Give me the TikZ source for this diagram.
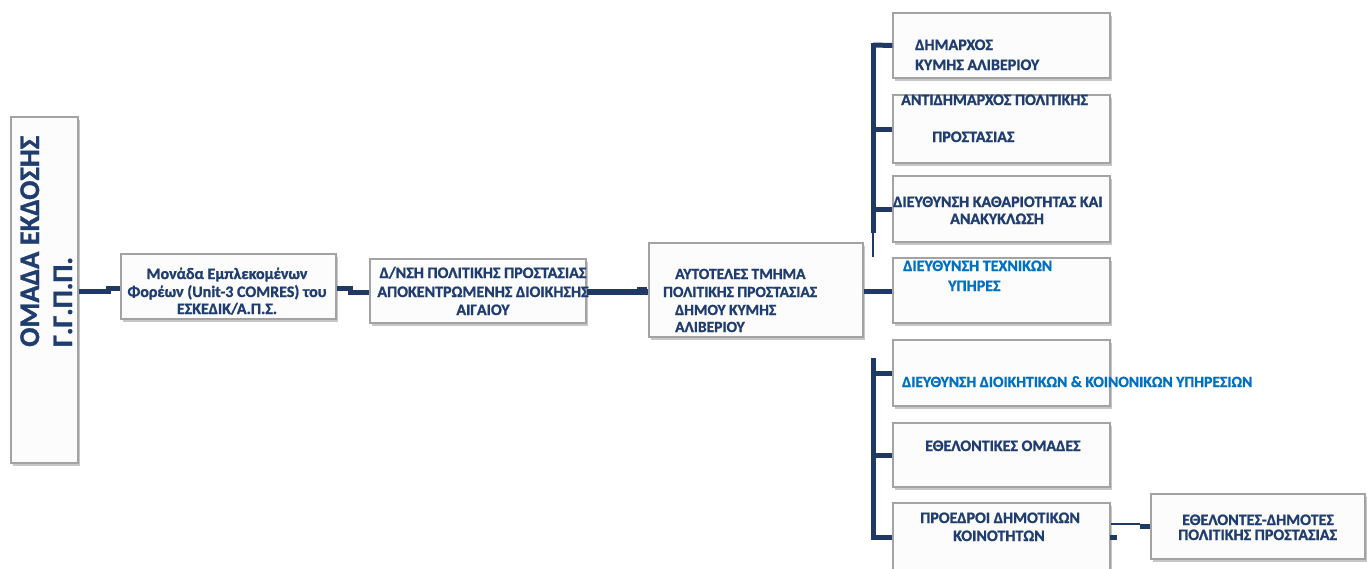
\documentclass[tikz,border=0pt]{standalone}
\usepackage{fontspec}
\setmainfont{Carlito}[BoldFont={Carlito Bold}, BoldFeatures={FakeBold=1.2}]
\usetikzlibrary{shadows}
\definecolor{navy}{HTML}{1F3864}
\definecolor{txtnavy}{HTML}{203D70}
\definecolor{brightblue}{HTML}{0070C0}
\definecolor{boxline}{HTML}{A3A3A3}
\definecolor{boxfill}{HTML}{FCFCFC}
\begin{document}
\begin{tikzpicture}[x=1pt,y=-1pt,
  box/.style={draw=boxline, line width=1.3pt, fill=boxfill, inner sep=0pt,
    drop shadow={shadow xshift=2pt, shadow yshift=-2.5pt, opacity=0.22, fill=black}},
  conn/.style={draw=navy, line width=5pt},
  thinconn/.style={draw=navy, line width=2pt},
  t/.style={font=\bfseries\fontsize{16}{19}\selectfont, text=txtnavy, inner sep=0pt},
  ta/.style={t, font=\bfseries\fontsize{15.5}{19}\selectfont},
  tb/.style={t, text=brightblue},
  big/.style={font=\bfseries\fontsize{28.5}{33}\selectfont, text=txtnavy, inner sep=0pt, rotate=90, anchor=base west}]
\useasboundingbox (0,0) rectangle (1367,568);

% boxes
\node[box, minimum width=67pt, minimum height=346pt] (omada) at (44.5,290) {};
\node[box, minimum width=215pt, minimum height=65pt] (monada) at (228.5,286.5) {};
\node[box, minimum width=216pt, minimum height=64pt] (dnsi) at (478,291) {};
\node[box, minimum width=214pt, minimum height=94pt] (aytot) at (756,290) {};
\node[box, minimum width=217pt, minimum height=65pt] (dim) at (1001.5,45.5) {};
\node[box, minimum width=217pt, minimum height=68pt] (anti) at (1001.5,129) {};
\node[box, minimum width=217pt, minimum height=66pt] (kath) at (1001.5,209) {};
\node[box, minimum width=217pt, minimum height=65pt] (tech) at (1001.5,290.5) {};
\node[box, minimum width=217pt, minimum height=66pt] (dioik) at (1001.5,373) {};
\node[box, minimum width=217pt, minimum height=64pt] (ethel) at (1001.5,455) {};
\node[box, minimum width=217pt, minimum height=74pt] (proed) at (1001.5,540) {};
\node[box, minimum width=214pt, minimum height=65pt] (ethdim) at (1258,526.5) {};

% connectors
\draw[conn] ([yshift=-1.5pt]omada.east) -- ++(30,0) |- ([yshift=-1.5pt]monada.west);
\draw[conn] ([yshift=-1.5pt]monada.east) -- ++(14,0) |- ([yshift=-1pt]dnsi.west);
\draw[conn, line width=6pt] ([yshift=-0.5pt]dnsi.east) -- ([yshift=-1.5pt]aytot.west);
\fill[navy] (637,287) rectangle (647,295);
\draw[conn] ([yshift=-1pt]aytot.east) -- ([yshift=-0.5pt]tech.west);

\coordinate (bustop) at (873,45);
\coordinate (busmid) at (873,233);
\coordinate (busthin) at (873,257);
\coordinate (bus2top) at (873,358);
\coordinate (busbot) at (873,537);
\draw[conn] ([yshift=2.5pt]bustop) -- (busmid);
\draw[navy, line width=1.5pt] (busmid) -- (busthin);
\draw[conn] (bus2top) -- ([yshift=-2.5pt]busbot);
\draw[conn] (bustop) -- (dim.west);
\draw[conn] (anti.west -| bustop) -- (anti.west);
\draw[conn] (kath.west -| bustop) -- (kath.west);
\draw[conn] (dioik.west -| bustop) -- (dioik.west);
\draw[conn] (ethel.west -| bustop) -- (ethel.west);
\draw[conn] (busbot) -- (busbot -| proed.west);

\coordinate (pj) at (1140,524);
\draw[thinconn] (proed.east |- pj) -- (pj);
\draw[conn] (pj |- ethdim.west) -- (ethdim.west);
\fill[navy] (1110,535) rectangle (1117,540);

% texts
\node[big] (om1) at (39,347) {ΟΜΑΔΑ ΕΚΔΟΣΗΣ};
\node[big] (om2) at (72,347) {Γ.Γ.Π.Π.};

\node[t, anchor=base] (m1) at (227,279) {Μονάδα Εμπλεκομένων};
\node[t, anchor=base] (m2) at (227,297) {Φορέων (Unit-3 COMRES) του};
\node[t, anchor=base] (m3) at (227,314) {ΕΣΚΕΔΙΚ/Α.Π.Σ.};

\node[t, anchor=base] (d1) at (483,278) {Δ/ΝΣΗ ΠΟΛΙΤΙΚΗΣ ΠΡΟΣΤΑΣΙΑΣ};
\node[t, anchor=base] (d2) at (483,297) {ΑΠΟΚΕΝΤΡΩΜΕΝΗΣ ΔΙΟΙΚΗΣΗΣ};
\node[t, anchor=base] (d3) at (483,315) {ΑΙΓΑΙΟΥ};

\node[ta, anchor=base west] (a1) at (675,279) {ΑΥΤΟΤΕΛΕΣ ΤΜΗΜΑ};
\node[ta, anchor=base west] (a2) at (663,297) {ΠΟΛΙΤΙΚΗΣ ΠΡΟΣΤΑΣΙΑΣ};
\node[ta, anchor=base west] (a3) at (675,315) {ΔΗΜΟΥ ΚΥΜΗΣ};
\node[ta, anchor=base west] (a4) at (675,332) {ΑΛΙΒΕΡΙΟΥ};

\node[t, anchor=base west] (dm1) at (915,50) {ΔΗΜΑΡΧΟΣ};
\node[t, anchor=base west] (dm2) at (915,70) {ΚΥΜΗΣ ΑΛΙΒΕΡΙΟΥ};

\node[t, anchor=base west] (an1) at (901,105) {ΑΝΤΙΔΗΜΑΡΧΟΣ ΠΟΛΙΤΙΚΗΣ};
\node[t, anchor=base west] (an2) at (932,142) {ΠΡΟΣΤΑΣΙΑΣ};

\node[t, anchor=base west] (k1) at (893,207) {ΔΙΕΥΘΥΝΣΗ ΚΑΘΑΡΙΟΤΗΤΑΣ ΚΑΙ};
\node[t, anchor=base west] (k2) at (950,224) {ΑΝΑΚΥΚΛΩΣΗ};

\node[tb, anchor=base west] (te1) at (903,271) {ΔΙΕΥΘΥΝΣΗ ΤΕΧΝΙΚΩΝ};
\node[tb, anchor=base west] (te2) at (948,291) {ΥΠΗΡΕΣ};

\node[tb, anchor=base west, font=\bfseries\fontsize{15.6}{19}\selectfont] (di1) at (902,387) {ΔΙΕΥΘΥΝΣΗ ΔΙΟΙΚΗΤΙΚΩΝ \& ΚΟΙΝΟΝΙΚΩΝ ΥΠΗΡΕΣΙΩΝ};

\node[t, anchor=base west] (e1) at (925,451) {ΕΘΕΛΟΝΤΙΚΕΣ ΟΜΑΔΕΣ};

\node[t, anchor=base west] (p1) at (920,523) {ΠΡΟΕΔΡΟΙ ΔΗΜΟΤΙΚΩΝ};
\node[t, anchor=base west] (p2) at (953,541) {ΚΟΙΝΟΤΗΤΩΝ};

\node[t, anchor=base west] (ed1) at (1182,525) {ΕΘΕΛΟΝΤΕΣ-ΔΗΜΟΤΕΣ};
\node[t, anchor=base west] (ed2) at (1178,540) {ΠΟΛΙΤΙΚΗΣ ΠΡΟΣΤΑΣΙΑΣ};
\end{tikzpicture}
\end{document}
